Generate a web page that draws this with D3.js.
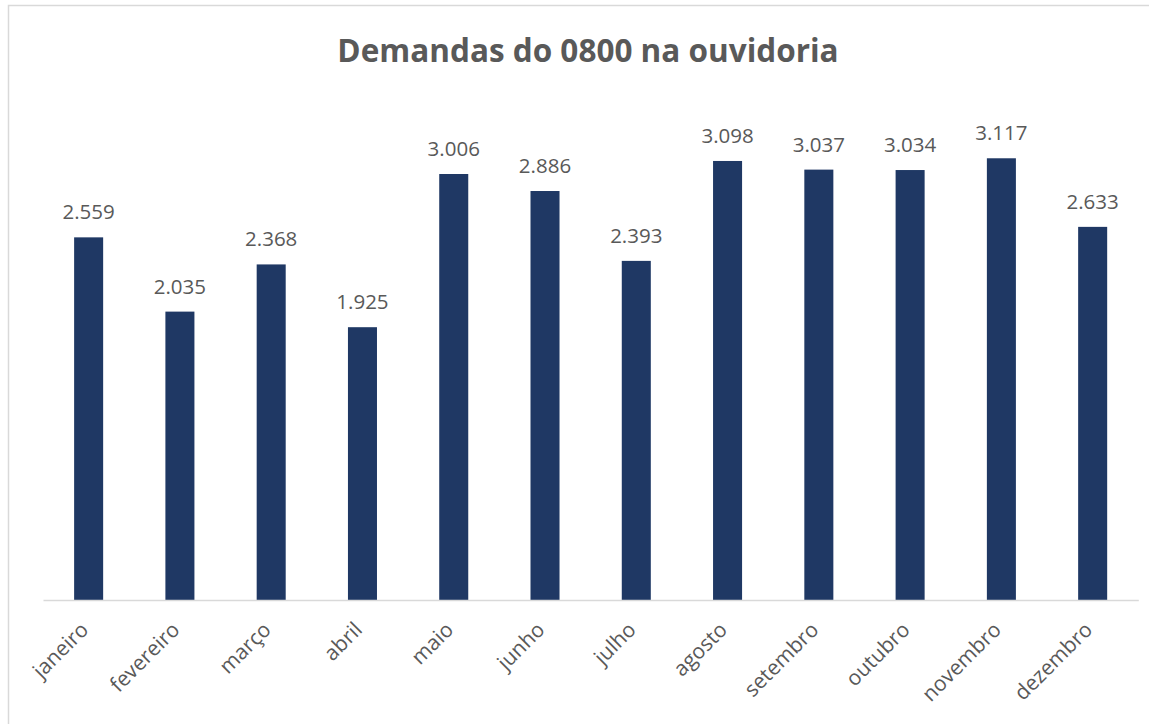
<!DOCTYPE html>
<html>
<head>
<meta charset="utf-8">
<script src="https://cdn.jsdelivr.net/npm/d3@7"></script>
<style>
  body { margin: 0; background: #fff; }
  svg { display: block; }
</style>
</head>
<body>
<div id="chart"></div>
<script>
// dados mensais
var months = ["janeiro", "fevereiro", "março", "abril", "maio", "junho",
              "julho", "agosto", "setembro", "outubro", "novembro", "dezembro"];
var demandas = [2559, 2035, 2368, 1925, 3006, 2886, 2393, 3098, 3037, 3034, 3117, 2633];
var title = "Demandas do 0800 na ouvidoria";

var width = 1149, height = 724;
var barColour = "#1F3864";
var textColour = "#595959";
var lineColour = "#D9D9D9";

var fmt = d3.formatLocale({decimal: ",", thousands: ".", grouping: [3], currency: ["R$", ""]}).format(",d");

var svg = d3.select("#chart")
    .append("svg")
    .attr("width", width)
    .attr("height", height);

// chart area border
svg.append("rect")
    .attr("x", 8.5)
    .attr("y", 5.5)
    .attr("width", 1200)
    .attr("height", 800)
    .attr("fill", "#fff")
    .attr("stroke", lineColour)
    .attr("stroke-width", 1.5);

var x = d3.scaleBand()
    .domain(months)
    .range([43, 1138.3])
    .paddingInner(0.682)
    .paddingOuter(0.341);

var y = d3.scaleLinear()
    .domain([0, 3500])
    .range([600, 104]);

// bars
svg.selectAll("rect.bar")
    .data(months)
    .enter()
    .append("rect")
    .attr("class", "bar")
    .attr("x", function(d) { return x(d); })
    .attr("width", x.bandwidth())
    .attr("y", function(d, i) { return y(demandas[i]); })
    .attr("height", function(d, i) { return y(0) - y(demandas[i]); })
    .attr("fill", barColour);

// value labels
svg.selectAll("text.value")
    .data(months)
    .enter()
    .append("text")
    .attr("class", "value")
    .attr("x", function(d) { return x(d) + x.bandwidth() / 2; })
    .attr("y", function(d, i) { return y(demandas[i]) - 18; })
    .attr("text-anchor", "middle")
    .style("font-family", "'Open Sans'")
    .style("font-size", "20.5px")
    .style("fill", textColour)
    .text(function(d, i) { return fmt(demandas[i]); });

// x axis
var xAxis = svg.append("g")
    .attr("transform", "translate(0,600)")
    .call(d3.axisBottom(x).tickSize(0).tickFormat(""));
xAxis.select(".domain")
    .attr("stroke", lineColour)
    .attr("stroke-width", 1.5);

svg.selectAll("text.month")
    .data(months)
    .enter()
    .append("text")
    .attr("class", "month")
    .attr("transform", function(d) {
      return "translate(" + (x(d) + x.bandwidth() / 2 + 1) + ",631) rotate(-45)";
    })
    .attr("text-anchor", "end")
    .style("font-family", "'Open Sans'")
    .style("font-size", "21px")
    .style("fill", textColour)
    .text(function(d) { return d; });

// title
svg.append("text")
    .attr("x", 588)
    .attr("y", 62)
    .attr("text-anchor", "middle")
    .style("font-family", "'Open Sans'")
    .style("font-weight", "bold")
    .style("font-size", "31.5px")
    .style("fill", textColour)
    .text(title);
</script>
</body>
</html>
